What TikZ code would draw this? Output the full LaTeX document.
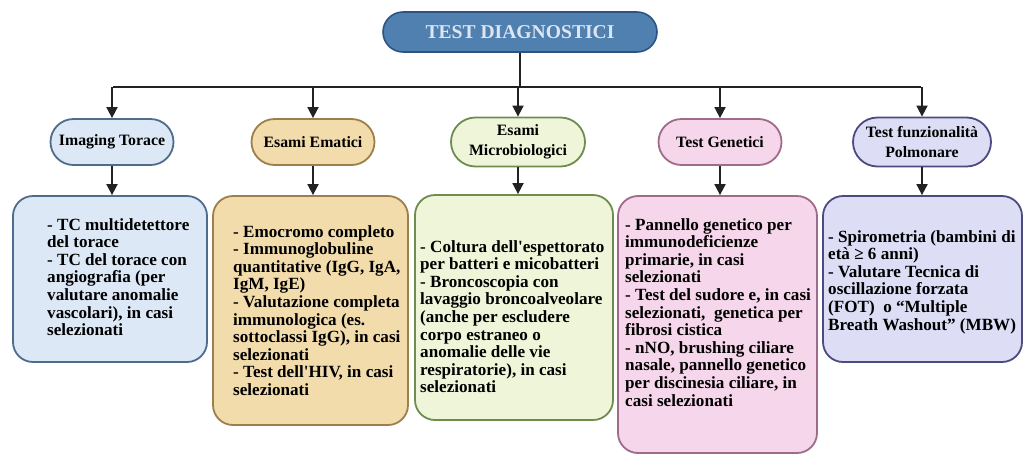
\documentclass[tikz,border=0pt]{standalone}
\usepackage{fontspec}
\setmainfont{Liberation Serif}
\usetikzlibrary{arrows.meta,shapes.misc}
\definecolor{tfill}{HTML}{4F80AF}
\definecolor{tdraw}{HTML}{2B5580}
\definecolor{ttext}{HTML}{DCE6F2}
\definecolor{cAf}{HTML}{DDE8F6}\definecolor{cAd}{HTML}{4E6C8C}
\definecolor{cBf}{HTML}{F2DCAC}\definecolor{cBd}{HTML}{9C7F4A}
\definecolor{cCf}{HTML}{EEF5D9}\definecolor{cCd}{HTML}{6F8C4F}
\definecolor{cDf}{HTML}{F5D6EA}\definecolor{cDd}{HTML}{A06B88}
\definecolor{cEf}{HTML}{DDDDF5}\definecolor{cEd}{HTML}{4B4B7F}
\definecolor{lnk}{HTML}{222222}
\begin{document}
\begin{tikzpicture}[x=1pt,y=-1pt,
  titlebox/.style={rounded rectangle, draw=tdraw, fill=tfill, line width=1.6pt,
    minimum width=274pt, minimum height=40pt, inner sep=0pt, text=ttext,
    font=\bfseries\fontsize{19.6}{22}\selectfont},
  catbox/.style={rounded rectangle, line width=1.8pt, inner sep=0pt, align=center,
    minimum height=46pt, font=\bfseries\fontsize{15.8}{20}\selectfont},
  leafbox/.style={rectangle, rounded corners=20pt, line width=1.8pt, inner sep=0pt},
  leaftext/.style={anchor=north west, inner sep=0pt, align=left,
    font=\bfseries\fontsize{17.1}{17.6}\selectfont},
  link/.style={draw=lnk, line width=1.8pt},
  arr/.style={link, -{Triangle[width=11pt,length=11pt]}}]
\useasboundingbox (0,0) rectangle (1030,461);

\node[titlebox] (T) at (520,32) {TEST DIAGNOSTICI};

\node[catbox, draw=cAd, fill=cAf, minimum width=123pt] (L1) at (112,142) {Imaging Torace};
\node[catbox, draw=cBd, fill=cBf, minimum width=123pt] (L2) at (313,142) {Esami Ematici};
\node[catbox, draw=cCd, fill=cCf, minimum width=134pt, minimum height=49pt] (L3) at (518,142) {Esami\\Microbiologici};
\node[catbox, draw=cDd, fill=cDf, minimum width=123pt] (L4) at (720,142) {Test Genetici};
\node[catbox, draw=cEd, fill=cEf, minimum width=138pt, minimum height=49pt] (L5) at (922,142) {Test funzionalità\\Polmonare};

\node[leafbox, draw=cAd, fill=cAf, minimum width=194pt, minimum height=166pt] (B1) at (110,279) {};
\node[leafbox, draw=cBd, fill=cBf, minimum width=195pt, minimum height=229pt] (B2) at (310.5,310.5) {};
\node[leafbox, draw=cCd, fill=cCf, minimum width=198pt, minimum height=225pt] (B3) at (514,307.5) {};
\node[leafbox, draw=cDd, fill=cDf, minimum width=199pt, minimum height=257pt] (B4) at (717.5,324.5) {};
\node[leafbox, draw=cEd, fill=cEf, minimum width=199pt, minimum height=166pt] (B5) at (922.5,279) {};

\node[leaftext] (t1) at (47,218) {- TC multidetettore\\del torace\\- TC del torace con\\angiografia (per\\valutare anomalie\\vascolari), in casi\\selezionati};
\node[leaftext] (t2) at (233,225) {- Emocromo completo\\- Immunoglobuline\\quantitative (IgG, IgA,\\IgM, IgE)\\- Valutazione completa\\immunologica (es.\\sottoclassi IgG), in casi\\selezionati\\- Test dell\textquotesingle HIV, in casi\\selezionati};
\node[leaftext] (t3) at (420,240) {- Coltura dell\textquotesingle espettorato\\per batteri e micobatteri\\- Broncoscopia con\\lavaggio broncoalveolare\\(anche per escludere\\corpo estraneo o\\anomalie delle vie\\respiratorie), in casi\\selezionati};
\node[leaftext] (t4) at (625,218) {- Pannello genetico per\\immunodeficienze\\primarie, in casi\\selezionati\\- Test del sudore e, in casi\\selezionati,\ \ genetica per\\fibrosi cistica\\- nNO, brushing ciliare\\nasale, pannello genetico\\per discinesia ciliare, in\\casi selezionati};
\node[leaftext] (t5) at (828,230) {- Spirometria (bambini di\\età ≥ 6 anni)\\- Valutare Tecnica di\\oscillazione forzata\\(FOT)\ \ o “Multiple\\Breath Washout” (MBW)};

\coordinate (j1) at (113,87);
\coordinate (j5) at (921,87);
\draw[link] (T.south) -- (T.south |- j1);
\draw[link] (j1) -- (j5);
\foreach \k in {1,...,5}{
  \draw[arr] (L\k.north |- j1) -- (L\k.north);
  \draw[arr] (L\k.south) -- (L\k.south |- B\k.north);
}
\end{tikzpicture}
\end{document}
